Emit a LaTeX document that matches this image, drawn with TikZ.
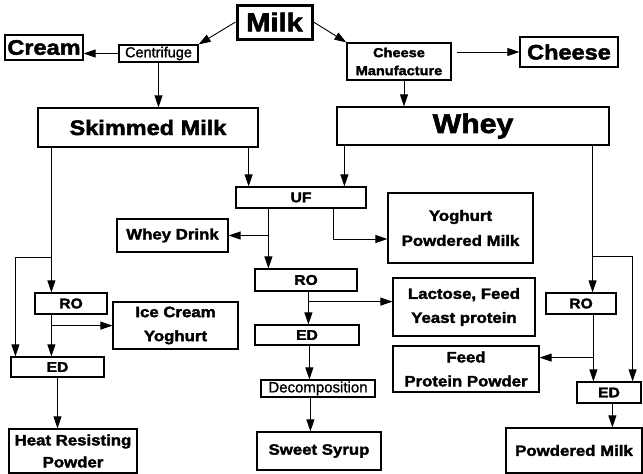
\documentclass[tikz,border=0pt]{standalone}
\usepackage{fontspec}
\usetikzlibrary{arrows.meta,calc}
\newfontfamily\heavy{Liberation Sans}[UprightFont={* Bold},FakeStretch=1.12,FakeBold=2.2]
\newfontfamily\medf{Liberation Sans}[FakeBold=1.2]
\newcommand\fsz[2]{\fontsize{#1}{#2}\selectfont}
\tikzset{
 box/.style={draw, line width=1.2pt, inner sep=0pt, align=center},
 arr/.style={line width=0.9pt, -{Triangle[length=12pt,width=8pt]}},
}
\begin{document}
\begin{tikzpicture}[x=1pt,y=-1pt]
\useasboundingbox (0,0) rectangle (643,474);
% nodes
\node[box, line width=3pt, minimum width=75, minimum height=34, font=\heavy\fsz{26}{28}] (milk) at (274.5,22) {Milk};
\node[box, minimum width=78, minimum height=25, font=\heavy\fsz{21}{24}] (cream) at (44,47.5) {Cream};
\node[box, minimum width=79, minimum height=17, font=\medf\fsz{14.5}{16}] (centrifuge) at (158.5,53.5) {Centrifuge};
\node[box, minimum width=220, minimum height=39, font=\heavy\fsz{21}{24}] (skim) at (148,127.5) {Skimmed Milk};
\node[box, minimum width=104, minimum height=37, font=\heavy\fsz{13}{18}] (cheeseman) at (399,61.5) {Cheese\\Manufacture};
\node[box, minimum width=98, minimum height=30, font=\heavy\fsz{21}{24}] (cheese) at (569,52) {Cheese};
\node[box, minimum width=272, minimum height=38, font=\heavy\fsz{27}{30}] (whey) at (473,126) {Whey};
\node[box, minimum width=130, minimum height=21, font=\heavy\fsz{14}{16}] (uf) at (301,197.5) {UF};
\node[box, minimum width=111, minimum height=33, font=\heavy\fsz{15}{24}] (wdrink) at (172.5,235.5) {Whey Drink};
\node[box, minimum width=145, minimum height=70, font=\heavy\fsz{15}{25}] (yogpm) at (460.5,228) {Yoghurt\\Powdered Milk};
\node[box, minimum width=102, minimum height=22, font=\heavy\fsz{14}{16}] (ro2) at (306,280) {RO};
\node[box, minimum width=142, minimum height=58, font=\heavy\fsz{15}{24}] (lact) at (464,307) {Lactose, Feed\\Yeast protein};
\node[box, minimum width=104, minimum height=20, font=\heavy\fsz{14}{16}] (ed2) at (307,335) {ED};
\node[box, minimum width=114, minimum height=17, font=\medf\fsz{15}{16}] (decomp) at (318,388.5) {Decomposition};
\node[box, minimum width=124, minimum height=38, font=\heavy\fsz{15}{24}] (syrup) at (319,451) {Sweet Syrup};
\node[box, minimum width=72, minimum height=21, font=\heavy\fsz{14}{16}] (ro1) at (71,303.5) {RO};
\node[box, minimum width=125, minimum height=47, font=\heavy\fsz{15}{24}] (ice) at (175.5,325.5) {Ice Cream\\Yoghurt};
\node[box, minimum width=93, minimum height=20, font=\heavy\fsz{14}{16}] (ed1) at (57.5,367) {ED};
\node[box, minimum width=128, minimum height=44, font=\heavy\fsz{15}{22}] (heat) at (73,451) {Heat Resisting\\Powder};
\node[box, minimum width=70, minimum height=21, font=\heavy\fsz{14}{16}] (ro3) at (581,303.5) {RO};
\node[box, minimum width=146, minimum height=46, font=\heavy\fsz{15}{24}] (feed) at (466,369) {Feed\\Protein Powder};
\node[box, minimum width=64, minimum height=21, font=\heavy\fsz{14}{16}] (ed3) at (609,392.5) {ED};
\node[box, minimum width=136, minimum height=45, font=\heavy\fsz{15}{24}] (pmilk) at (574,450.5) {Powdered Milk};
% helper coordinates
\path ($(cheeseman.south)+(5,0)$) coordinate (cm);
\path ($(skim.south west)+(14,0)$) coordinate (sk1);
\path ($(skim.south east)+(-10,0)$) coordinate (sk2);
\path ($(sk1)+(0,110)$) coordinate (bl);
\path ($(whey.south west)+(8,0)$) coordinate (wh1);
\path ($(whey.south east)+(-17,0)$) coordinate (wh2);
\path ($(wh2)+(0,111)$) coordinate (br);
\path ($(uf.south west)+(33,0)$) coordinate (uf1);
\path ($(uf.south west)+(98,0)$) coordinate (uf2);
\path ($(ro2.south west)+(54,0)$) coordinate (r2);
\path ($(r2)+(0,10)$) coordinate (r2b);
\path ($(ed2.south west)+(55,0)$) coordinate (e2);
\path ($(decomp.south west)+(50,0)$) coordinate (dc);
\path ($(ro1.south west)+(17,0)$) coordinate (r1);
\path ($(r1)+(0,11)$) coordinate (r1b);
\path ($(ro3.south west)+(48,0)$) coordinate (r3);
\path ($(r3)+(0,43)$) coordinate (r3b);
\path ($(ed3.south west)+(36,0)$) coordinate (e3);
% connectors
\draw[arr] (milk.west) -- (centrifuge.north east);
\draw[arr] (milk.east) -- (cheeseman.north west);
\draw[arr] (centrifuge.west) -- (centrifuge.west -| cream.east);
\draw[arr] ($(cheeseman.east |- cheese.west)+(5,0)$) -- (cheese.west);
\draw[arr] (centrifuge.south) -- (centrifuge.south |- skim.north);
\draw[arr] (cm) -- (cm |- whey.north);
\draw[arr] (sk1) -- (sk1 |- ro1.north);
\draw[arr] (bl) -| ($(ed1.north west)+(5,0)$);
\draw[arr] (sk2) -- (sk2 |- uf.north);
\draw[arr] (wh1) -- (wh1 |- uf.north);
\draw[arr] (wh2) -- (wh2 |- ro3.north);
\draw[arr] (br) -| ($(ed3.north east)+(-9,0)$);
\draw[arr] (uf1) -- (uf1 |- ro2.north);
\draw[arr] (uf1 |- wdrink.east) -- (wdrink.east);
\draw[arr] (uf2) |- ($(yogpm.west)+(0,11)$);
\draw[arr] (r2) -- (r2 |- ed2.north);
\draw[arr] (r2b) -- (r2b -| lact.west);
\draw[arr] (e2) -- (e2 |- decomp.north);
\draw[arr] (dc) -- (dc |- syrup.north);
\draw[arr] (r1) -- (r1 |- ed1.north);
\draw[arr] (r1b) -- (r1b -| ice.west);
\draw[arr] (ed1.south) -- (ed1.south |- heat.north);
\draw[arr] (r3) -- (r3 |- ed3.north);
\draw[arr] (r3b) -- (r3b -| feed.east);
\draw[arr] (e3) -- (e3 |- pmilk.north);
\end{tikzpicture}
\end{document}
